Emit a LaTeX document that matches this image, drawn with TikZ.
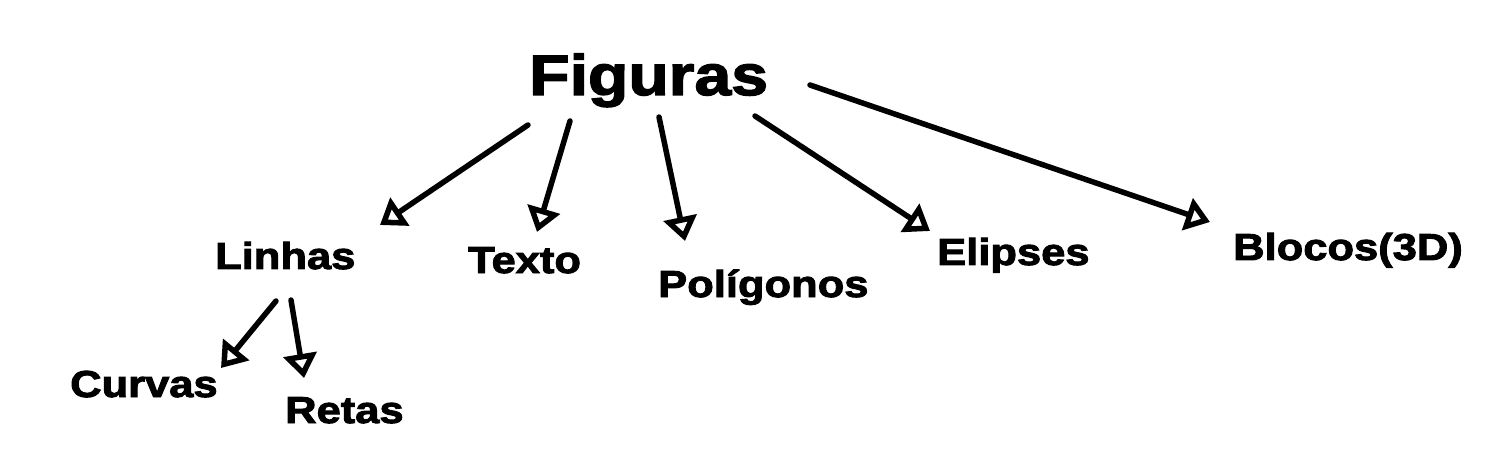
\documentclass[tikz,border=0pt]{standalone}
\usepackage{fontspec}
\usepackage{tikz}
\usetikzlibrary{arrows.meta}
\newfontfamily\paintfont{Liberation Sans}[FakeStretch=1.16, FakeBold=2.5]
\tikzset{
    rootnode/.style={inner sep=0pt, anchor=base west, font=\paintfont\bfseries\fontsize{57}{60}\selectfont},
    leafnode/.style={inner sep=0pt, anchor=base west, font=\paintfont\bfseries\fontsize{37.5}{40}\selectfont},
    paintarrow/.style={line width=5.5pt, line cap=round, -{Triangle[open, length=24pt, width=33pt]}}
}

\begin{document}
\begin{tikzpicture}[x=1pt, y=-1pt]
    \useasboundingbox (0,0) rectangle (1497,473);
    \node[rootnode] (figuras) at (529,95) {Figuras};
    \node[leafnode] (linhas) at (215,269) {Linhas};
    \node[leafnode] (texto) at (468,273) {Texto};
    \node[leafnode] (poligonos) at (658,297) {Polígonos};
    \node[leafnode] (elipses) at (937,265) {Elipses};
    \node[leafnode] (blocos) at (1233,260) {Blocos(3D)};
    \node[leafnode] (curvas) at (70,397) {Curvas};
    \node[leafnode] (retas) at (285,423) {Retas};
    % arrows out of Figuras
    \draw[paintarrow] ([shift={(-1,30)}]figuras.base west) -- ([shift={(165,-44)}]linhas.base west);
    \draw[paintarrow] ([shift={(41,26)}]figuras.base west) -- ([shift={(69,-41)}]texto.base west);
    \draw[paintarrow] ([shift={(130,22)}]figuras.base west) -- ([shift={(27,-56)}]poligonos.base west);
    \draw[paintarrow] ([shift={(226,21)}]figuras.base west) -- ([shift={(-7,-34)}]elipses.base west);
    \draw[paintarrow] ([shift={(281,-10)}]figuras.base west) -- ([shift={(-23,-38)}]blocos.base west);
    % arrows out of Linhas
    \draw[paintarrow] ([shift={(61,32)}]linhas.base west) -- ([shift={(151,-29)}]curvas.base west);
    \draw[paintarrow] ([shift={(76,31)}]linhas.base west) -- ([shift={(19,-45)}]retas.base west);
\end{tikzpicture}
\end{document}
